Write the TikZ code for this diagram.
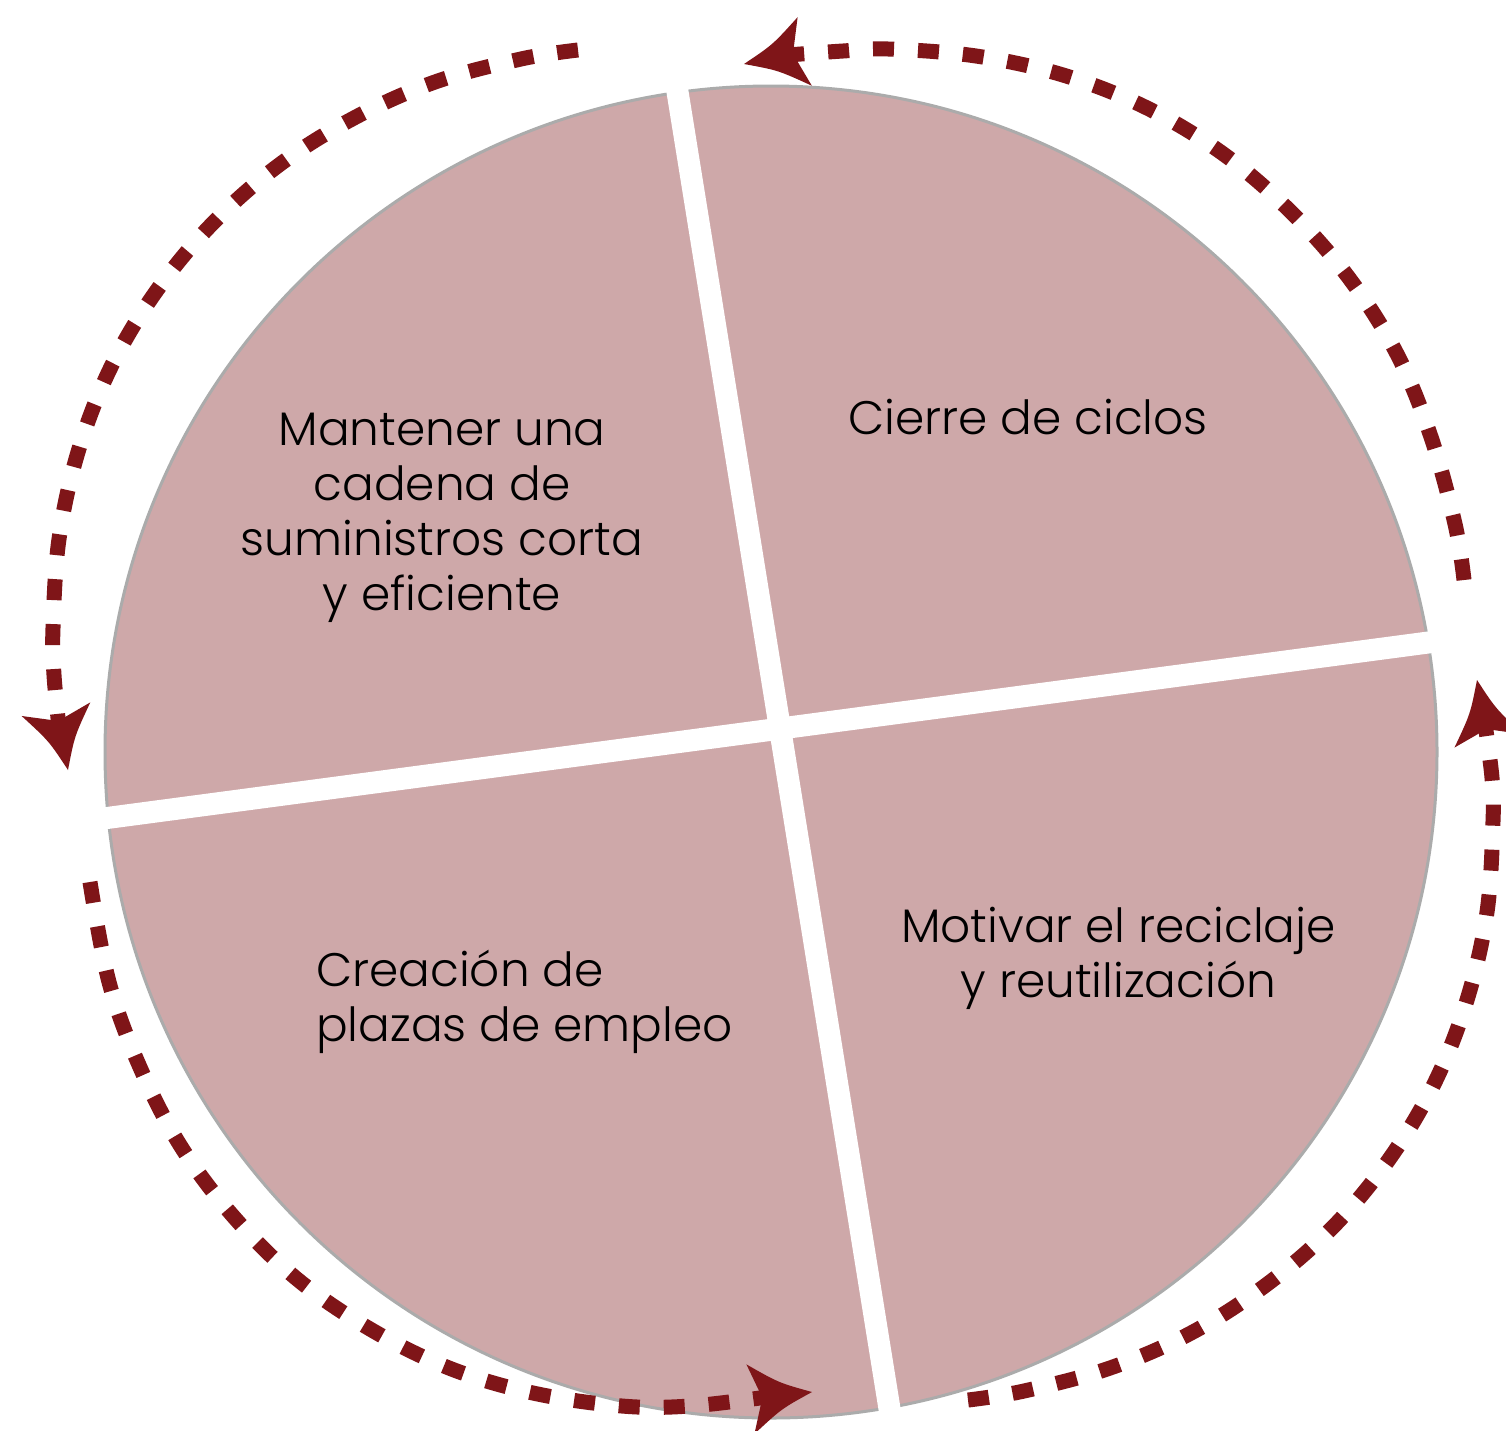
\documentclass[tikz,border=0pt]{standalone}
\usepackage{fontspec}
\setmainfont{Poppins}[UprightFont=* Light]
\definecolor{segfill}{HTML}{CEA8A9}
\definecolor{segborder}{HTML}{ABABAB}
\definecolor{arcred}{HTML}{7F1518}
\begin{document}
\begin{tikzpicture}[x=1pt,y=-1pt,
  arcline/.style={draw=arcred, line width=15pt, dash pattern=on 21pt off 24pt},
  gapline/.style={draw=white, line width=22pt},
  lbl/.style={font=\fontsize{47}{55}\selectfont, align=center, text=black, inner sep=0pt},
  arrowhd/.pic={\fill[arcred] (0,0) .. controls (-32,-13) .. (-62,-35) -- (-50,0) -- (-62,35) .. controls (-32,13) .. (0,0) -- cycle;}
]
\useasboundingbox (0,0) rectangle (1506,1430);
\fill[white] (0,0) rectangle (1506,1430);
% disc
\draw[fill=segfill, draw=segborder, line width=3pt] (771,752) circle[radius=666];
% white separating gaps
\coordinate (gAtop) at (676.4,85);
\coordinate (gAbot) at (890.5,1415);
\coordinate (gBleft) at (95,819.6);
\coordinate (gBright) at (1447,640);
\draw[gapline] (gAtop) -- (gAbot);
\draw[gapline] (gBleft) -- (gBright);
% labels (base anchor = baseline of last line)
\node[lbl, anchor=base] (mant) at (442,610) {Mantener una\\cadena de\\suministros corta\\y eficiente};
\node[lbl, anchor=base] (cier) at (1028,434) {Cierre de ciclos};
\node[lbl, anchor=base west, align=left] (crea) at (316,1041) {Creación de\\plazas de empleo};
\node[lbl, anchor=base] (moti) at (1118.5,997) {Motivar el reciclaje\\y reutilización};
% dashed arcs
\draw[arcline] plot[smooth, tension=0.6] coordinates {(578,50) (521,59) (435,82) (354,118) (279,165) (212,224) (155,293) (110,369) (78,452) (59,539) (53,628) (54,675) (59,727)};
\draw[arcline] plot[smooth, tension=0.6] coordinates {(90,882) (109,982) (139,1065) (180,1145) (233,1216) (297,1279) (370,1329) (449,1368) (533,1393) (622,1406) (690,1406) (767,1397)};
\draw[arcline] plot[smooth, tension=0.6] coordinates {(968,1400) (1024,1391) (1110,1368) (1191,1333) (1266,1285) (1333,1227) (1390,1158) (1435,1082) (1467,1000) (1487,912) (1493,821) (1492,778) (1485,724)};
\draw[arcline] plot[smooth, tension=0.6] coordinates {(1464,580) (1455,524) (1431,437) (1397,354) (1349,278) (1290,211) (1222,153) (1145,107) (1063,75) (976,56) (888,49) (843,51) (788,55)};
% arrowheads
\pic[rotate=191.7] at (744,64) {arrowhd};
\pic[rotate=-78.8] at (68,770) {arrowhd};
\pic[rotate=6.6] at (812,1392) {arrowhd};
\pic[rotate=101] at (1477,680) {arrowhd};
\end{tikzpicture}
\end{document}
